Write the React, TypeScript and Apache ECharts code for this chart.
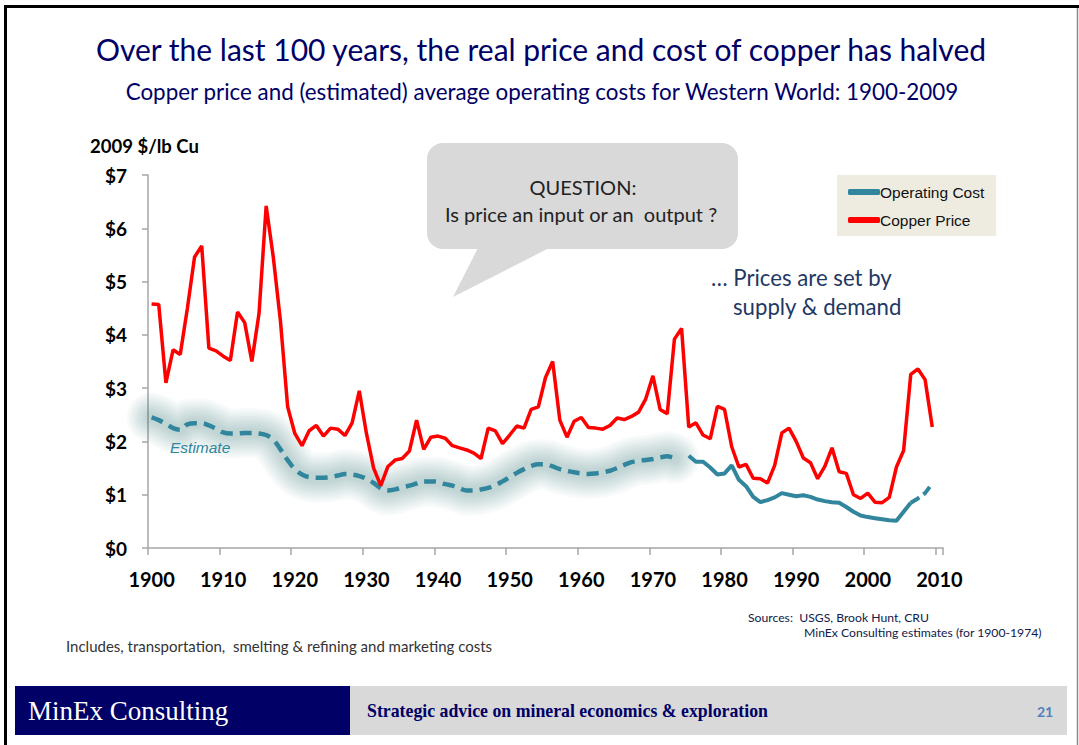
import React, { useEffect, useRef } from "react";
import * as echarts from "echarts";

// ---- Data (2009 $/lb Cu) ----
const FIRST_YEAR = 1900;
const LAST_YEAR = 2010;
const years: string[] = [];
for (let y = FIRST_YEAR; y <= LAST_YEAR; y++) years.push(String(y));

// Copper price 1900-2009
const copperPrice = [
  4.58, 4.57, 3.1, 3.72, 3.63, 4.5, 5.46, 5.67, 3.75, 3.7,
  3.6, 3.52, 4.43, 4.23, 3.5, 4.4, 6.42, 5.45, 4.25, 2.65,
  2.15, 1.92, 2.2, 2.3, 2.1, 2.25, 2.23, 2.11, 2.35, 2.95,
  2.15, 1.5, 1.17, 1.53, 1.65, 1.68, 1.82, 2.4, 1.85, 2.08,
  2.1, 2.06, 1.92, 1.88, 1.84, 1.78, 1.68, 2.25, 2.2, 1.96,
  2.12, 2.29, 2.25, 2.6, 2.65, 3.2, 3.5, 2.4, 2.08, 2.38,
  2.45, 2.26, 2.25, 2.23, 2.3, 2.44, 2.41, 2.47, 2.55, 2.8,
  3.23, 2.6, 2.52, 3.92, 4.12, 2.27, 2.35, 2.12, 2.05, 2.66,
  2.6, 1.9, 1.52, 1.57, 1.31, 1.3, 1.22, 1.55, 2.16, 2.25,
  2.0, 1.69, 1.6, 1.3, 1.53, 1.88, 1.43, 1.4, 1.0, 0.93,
  1.03, 0.86, 0.85, 0.95, 1.52, 1.83, 3.26, 3.36, 3.16, 2.27,
];

// Estimated operating cost 1900-1973 (MinEx estimates)
const ESTIMATE_START = 1900;
const estimatedCost = [
  2.45, 2.4, 2.33, 2.25, 2.22, 2.32, 2.34, 2.34, 2.3, 2.24,
  2.17, 2.15, 2.15, 2.16, 2.16, 2.15, 2.12, 2.03, 1.85, 1.65,
  1.48, 1.38, 1.33, 1.32, 1.32, 1.33, 1.36, 1.39, 1.38, 1.35,
  1.3, 1.22, 1.12, 1.08, 1.1, 1.14, 1.17, 1.21, 1.25, 1.25,
  1.24, 1.2, 1.17, 1.12, 1.08, 1.08, 1.1, 1.13, 1.18, 1.25,
  1.33, 1.41, 1.48, 1.54, 1.57, 1.57, 1.53, 1.48, 1.45, 1.42,
  1.4, 1.39, 1.4, 1.42, 1.45, 1.5, 1.56, 1.61, 1.64, 1.65,
  1.67, 1.7, 1.72, 1.68,
];

// Reported operating cost 1975-2006
const REPORTED_START = 1975;
const reportedCost = [
  1.73, 1.62, 1.62, 1.51, 1.38, 1.4, 1.55, 1.28, 1.16, 0.96,
  0.86, 0.9, 0.95, 1.03, 1.0, 0.97, 0.99, 0.96, 0.91, 0.88,
  0.86, 0.85, 0.77, 0.68, 0.61, 0.58, 0.56, 0.54, 0.52, 0.51,
  0.68, 0.85,
];

// Latest operating cost 2006-2009 (dashed)
const LATEST_START = 2006;
const latestCost = [0.85, 0.93, 1.03, 1.21];

const yTicks = [0, 1, 2, 3, 4, 5, 6, 7];

const TEAL = "#31859c";
const RED = "#ff0000";
const NAVY = "#000066";
const CAL = "Lato, 'Open Sans', sans-serif";
const ARIAL = "'Liberation Sans', Arial, sans-serif";
const SERIF = "'Liberation Serif', 'Times New Roman', serif";

// soft halo around the estimate line: stroke widths of stacked translucent layers
const GLOW_WIDTHS = [50, 46, 42, 38, 34, 30, 26, 22, 18, 14, 10];
const GLOW_ALPHA = 0.028;

function along(start: number, values: number[]) {
  return years.map((y) => {
    const i = Number(y) - start;
    return i >= 0 && i < values.length ? values[i] : null;
  });
}

function txt(
  text: string,
  x: number,
  y: number,
  font: { size: number; family?: string; weight?: string; style?: string; color?: string; align?: string }
) {
  const align = font.align || "left";
  return {
    type: "text",
    x,
    y,
    style: {
      text,
      fill: font.color || "#000",
      fontSize: font.size,
      fontFamily: font.family || CAL,
      fontWeight: font.weight || "normal",
      fontStyle: font.style || "normal",
      align,
      textAlign: align,
      verticalAlign: "middle",
      textVerticalAlign: "middle",
    },
    z: 100,
  };
}

export default function App() {
  const ref = useRef<HTMLDivElement>(null);

  useEffect(() => {
    if (!ref.current) return;
    const chart = echarts.init(ref.current, null, { renderer: "svg" });
    const estimateData = along(ESTIMATE_START, estimatedCost);
    const glowSeries = GLOW_WIDTHS.map((w, i) => ({
      name: "Estimate glow " + i,
      type: "line",
      data: estimateData,
      smooth: 0.4,
      showSymbol: false,
      symbol: "none",
      silent: true,
      lineStyle: { color: `rgba(45,95,115,${GLOW_ALPHA})`, width: w, cap: "round", join: "round" },
      itemStyle: { color: TEAL },
      z: 1,
    }));
    chart.setOption({
      animation: false,
      backgroundColor: "#ffffff",
      grid: { left: 148, top: 175, width: 795, height: 373, containLabel: false },
      legend: {
        left: 837,
        top: 175,
        orient: "vertical",
        backgroundColor: "#eeece1",
        padding: [9, 12, 8, 11],
        itemGap: 12,
        itemWidth: 32,
        itemHeight: 6,
        icon: "roundRect",
        textStyle: { fontFamily: ARIAL, fontSize: 15.5, color: "#111", padding: [0, 0, 0, -5] },
        data: [
          { name: "Operating Cost", itemStyle: { color: TEAL } },
          { name: "Copper Price", itemStyle: { color: RED } },
        ],
      },
      xAxis: {
        type: "category",
        data: years,
        boundaryGap: true,
        axisLine: { show: true, lineStyle: { color: "#a6a6a6", width: 1.5 } },
        axisTick: { show: true, interval: 9, length: 7, lineStyle: { color: "#a6a6a6", width: 1.5 } },
        axisLabel: {
          interval: 9,
          margin: 21,
          fontFamily: CAL,
          fontWeight: "bold",
          fontSize: 20,
          color: "#000",
        },
        splitLine: { show: false },
      },
      yAxis: {
        type: "value",
        min: yTicks[0],
        max: yTicks[yTicks.length - 1],
        interval: 1,
        axisLine: { show: true, lineStyle: { color: "#a6a6a6", width: 1.5 } },
        axisTick: { show: true, length: 6, lineStyle: { color: "#a6a6a6", width: 1.5 } },
        axisLabel: {
          margin: 21,
          fontFamily: CAL,
          fontWeight: "bold",
          fontSize: 19,
          color: "#000",
          formatter: (v: number) => "$" + v,
        },
        splitLine: { show: false },
      },
      series: [
        ...glowSeries,
        {
          name: "Estimate",
          type: "line",
          data: estimateData,
          smooth: 0.4,
          showSymbol: false,
          symbol: "none",
          connectNulls: false,
          lineStyle: { color: TEAL, width: 4.5, type: [12, 7] },
          itemStyle: { color: TEAL },
          z: 2,
        },
        {
          name: "Operating Cost",
          type: "line",
          data: along(REPORTED_START, reportedCost),
          showSymbol: false,
          symbol: "none",
          lineStyle: { color: TEAL, width: 4 },
          itemStyle: { color: TEAL },
          z: 3,
        },
        {
          name: "Operating Cost",
          type: "line",
          data: along(LATEST_START, latestCost),
          showSymbol: false,
          symbol: "none",
          lineStyle: { color: TEAL, width: 4, type: [10, 5] },
          itemStyle: { color: TEAL },
          z: 3,
        },
        {
          name: "Copper Price",
          type: "line",
          data: along(FIRST_YEAR, copperPrice),
          showSymbol: false,
          symbol: "none",
          lineStyle: { color: RED, width: 3.5 },
          itemStyle: { color: RED },
          z: 4,
        },
      ],
      graphic: [
        // slide frame
        { type: "line", shape: { x1: 4, y1: 6.5, x2: 1079, y2: 6.5 }, style: { stroke: "#000", lineWidth: 3 } },
        { type: "line", shape: { x1: 5.5, y1: 5, x2: 5.5, y2: 745 }, style: { stroke: "#000", lineWidth: 3 } },
        { type: "line", shape: { x1: 1077.5, y1: 8, x2: 1077.5, y2: 745 }, style: { stroke: "#8a8a8a", lineWidth: 1.5 } },
        // titles
        txt("Over the last 100 years, the real price and cost of copper has halved", 541, 49, {
          size: 30, color: NAVY, align: "center",
        }),
        txt("Copper price and (estimated) average operating costs for Western World: 1900-2009", 542, 91, {
          size: 22.4, color: NAVY, align: "center",
        }),
        txt("2009 $/lb Cu", 90, 146, { size: 18.5, weight: "bold" }),
        // callout
        { type: "rect", shape: { x: 427, y: 143, width: 311, height: 106, r: 16 }, style: { fill: "#d9d9d9" }, z: 50 },
        { type: "polygon", shape: { points: [[480, 244], [557, 244], [453, 297]] }, style: { fill: "#d9d9d9" }, z: 50 },
        txt("QUESTION:", 583, 187, { size: 20, color: "#222", align: "center" }),
        txt("Is price an input or an  output ?", 581, 214, { size: 20, color: "#222", align: "center" }),
        // annotations
        txt("… Prices are set by", 711, 277, { size: 22.2, color: "#1f3864" }),
        txt("supply & demand", 733, 306, { size: 22.2, color: "#1f3864" }),
        txt("Estimate", 170, 447, { size: 15.5, family: ARIAL, style: "italic", color: TEAL }),
        // notes
        txt("Sources:  USGS, Brook Hunt, CRU", 748, 617, { size: 12.2, color: "#10204a" }),
        txt("MinEx Consulting estimates (for 1900-1974)", 804, 632, { size: 12.2, color: "#10204a" }),
        txt("Includes, transportation,  smelting & refining and marketing costs", 66, 646, { size: 15, color: "#333" }),
        // footer band
        { type: "rect", shape: { x: 15, y: 686, width: 335, height: 49 }, style: { fill: "#000066" }, z: 50 },
        { type: "rect", shape: { x: 350, y: 686, width: 717, height: 49 }, style: { fill: "#d9d9d9" }, z: 50 },
        txt("MinEx Consulting", 28, 711, { size: 27, family: SERIF, color: "#ffffff" }),
        txt("Strategic advice on mineral economics & exploration", 367, 711, {
          size: 17.8, family: SERIF, weight: "bold", color: NAVY,
        }),
        txt("21", 1045, 711, { size: 14, weight: "bold", color: "#4f81bd", align: "center" }),
      ],
    });
    return () => chart.dispose();
  }, []);

  return (
    <div
      ref={ref}
      style={{ position: "absolute", left: 0, top: 0, width: 1079, height: 745 }}
    />
  );
}
